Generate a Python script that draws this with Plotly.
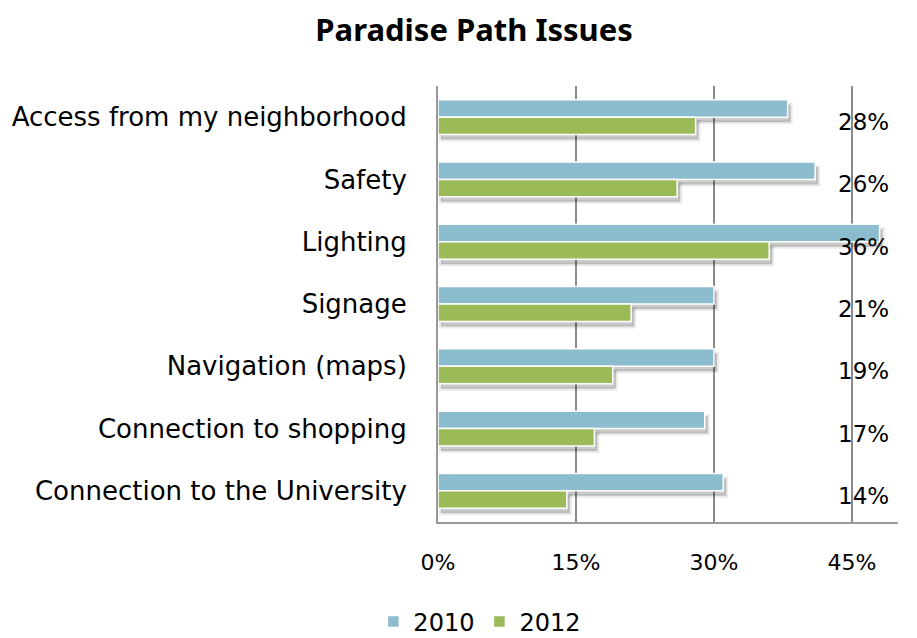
import plotly.graph_objects as go

# Survey data: share of respondents naming each issue
categories = [
    "Access from my neighborhood",
    "Safety",
    "Lighting",
    "Signage",
    "Navigation (maps)",
    "Connection to shopping",
    "Connection to the University",
]
values_2010 = [0.38, 0.41, 0.48, 0.30, 0.30, 0.29, 0.31]
values_2012 = [0.28, 0.26, 0.36, 0.21, 0.19, 0.17, 0.14]
labels_2012 = ["28%", "26%", "36%", "21%", "19%", "17%", "14%"]
tick_vals = [0, 0.15, 0.30, 0.45]
tick_text = ["0%", "15%", "30%", "45%"]

FONT = "DejaVu Sans"
BLUE = "#8bbdcf"
GREEN = "#9bbb59"

X_MAX = 0.5
N = len(categories)
PLOT_W, PLOT_H = 460, 436
# drop-shadow offset in pixels, converted to axis units
SH_DX, SH_DY = 3, 5
dx = SH_DX * X_MAX / PLOT_W
dy = SH_DY * N / PLOT_H

fig = go.Figure()

# Soft drop shadows on the base axes (drawn first, underneath)
for vals in (values_2010, values_2012):
    fig.add_trace(go.Bar(
        y=categories, x=vals, orientation="h", showlegend=False,
        hoverinfo="skip", xaxis="x", yaxis="y",
        marker=dict(color="rgba(0,0,0,0.20)",
                    line=dict(color="rgba(0,0,0,0.08)", width=4)),
    ))

# The actual bars on the overlaying axes
fig.add_trace(go.Bar(
    y=categories, x=values_2010, orientation="h", name="2010",
    xaxis="x2", yaxis="y2",
    marker=dict(color=BLUE, line=dict(color="white", width=1.5)),
))
fig.add_trace(go.Bar(
    y=categories, x=values_2012, orientation="h", name="2012",
    xaxis="x2", yaxis="y2",
    marker=dict(color=GREEN, line=dict(color="white", width=1.5)),
))

# Value labels for the 2012 series, in a column near the right edge
for cat, lab in zip(categories, labels_2012):
    fig.add_annotation(
        x=0.462, y=cat, text=lab, showarrow=False,
        xref="x2", yref="y2", yshift=-5,
        font=dict(family=FONT, size=23, color="black"),
    )

fig.update_layout(
    width=917, height=638,
    margin=dict(l=438, r=19, t=86, b=116, autoexpand=False),
    paper_bgcolor="white", plot_bgcolor="white",
    barmode="group", bargap=0.44, bargroupgap=0.0,
    title=dict(
        text="<b>Paradise Path Issues</b>",
        x=0.517, xanchor="center", y=0.953, yanchor="middle",
        font=dict(family="Noto Sans", size=31, color="black"),
    ),
    legend=dict(
        orientation="h", x=0.091, xanchor="center",
        y=-0.229, yref="paper", yanchor="middle",
        font=dict(family=FONT, size=24, color="black"),
        itemwidth=30, tracegroupgap=0,
    ),
    showlegend=True,
    xaxis=dict(
        range=[-dx, X_MAX - dx], visible=False, fixedrange=True,
    ),
    yaxis=dict(
        type="category", categoryorder="array", categoryarray=categories,
        range=[N - 0.5 - dy, -0.5 - dy], visible=False,
    ),
    xaxis2=dict(
        overlaying="x", side="bottom", anchor="y2",
        range=[0, X_MAX], tickvals=tick_vals, ticktext=tick_text,
        showgrid=True, gridcolor="#8a8a8a", gridwidth=1.5,
        showline=True, linecolor="#9a9a9a", linewidth=2,
        zeroline=False, ticks="", ticklabelstandoff=20,
        tickfont=dict(family=FONT, size=22, color="black"),
        automargin=False,
    ),
    yaxis2=dict(
        overlaying="y", side="left", anchor="x2",
        type="category", categoryorder="array", categoryarray=categories,
        range=[N - 0.5, -0.5],
        showline=True, linecolor="#9a9a9a", linewidth=2,
        showgrid=False, ticks="", ticklabelstandoff=24,
        tickfont=dict(family=FONT, size=26, color="black"),
        automargin=False,
    ),
)

fig.write_html("out.html")
